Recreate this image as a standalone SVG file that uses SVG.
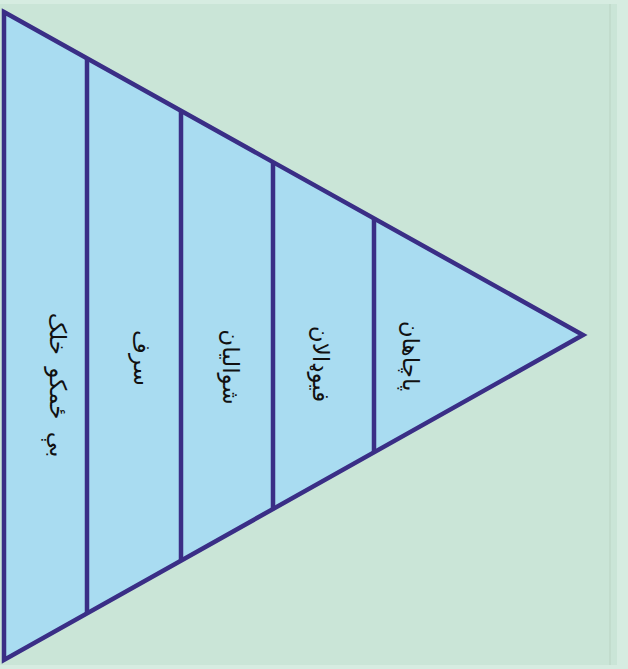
<svg xmlns="http://www.w3.org/2000/svg" width="628" height="669" viewBox="0 0 628 669">
<style>
.band{fill:#a9dcf1;stroke:none}
.edge{stroke:#3a2e86;stroke-width:4.5;fill:none;stroke-linejoin:miter}
.lbl{font-family:"DejaVu Sans",sans-serif;font-size:23px;fill:#111;text-anchor:middle;dominant-baseline:central}
</style>
<rect x="0" y="0" width="628" height="669" fill="#d6ece1"/>
<rect x="0" y="4" width="617" height="661" fill="#cae5d7"/>
<line x1="610" y1="4" x2="610" y2="665" stroke="#c2dccd" stroke-width="2"/>
<g id="pyramid">
<polygon class="band" points="4,12 583,335 4,660"/>
</g>
<g id="connectors">
<polygon class="edge" points="4,12 583,335 4,660"/>
<line class="edge" x1="87" y1="58" x2="87" y2="613"/>
<line class="edge" x1="181" y1="111" x2="181" y2="560"/>
<line class="edge" x1="273" y1="162" x2="273" y2="508"/>
<line class="edge" x1="374" y1="218" x2="374" y2="452"/>
</g>
<g id="n1"><text class="lbl" style="word-spacing:5px" transform="translate(58,385) rotate(90)">بې ځمکو خلک</text></g>
<g id="n2"><text class="lbl" transform="translate(142,358) rotate(90)">سرف</text></g>
<g id="n3"><text class="lbl" transform="translate(231,367) rotate(90)">شوالیان</text></g>
<g id="n4"><text class="lbl" transform="translate(321,364) rotate(90)">فیوډالان</text></g>
<g id="n5"><text class="lbl" transform="translate(411,356) rotate(90)">پاچاهان</text></g>
</svg>
